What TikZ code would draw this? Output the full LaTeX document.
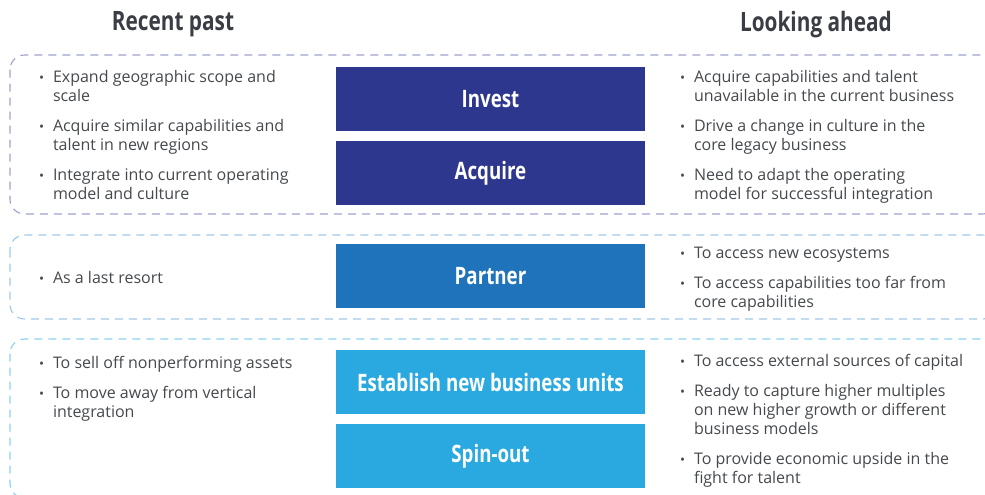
\documentclass[tikz,border=0pt]{standalone}
\usepackage{fontspec}
\setmainfont{Open Sans}
\newfontfamily\condfont[FakeStretch=0.78]{Open Sans}
\usetikzlibrary{positioning}

\definecolor{inkgray}{HTML}{45484D}
\definecolor{headgray}{HTML}{3A3D44}
\definecolor{investblue}{HTML}{2D378E}
\definecolor{partnerblue}{HTML}{1F73BA}
\definecolor{spinblue}{HTML}{29A9E0}
\definecolor{dashone}{HTML}{9EA2CE}
\definecolor{dashtwo}{HTML}{A0C7EA}
\definecolor{dashthree}{HTML}{8BD1F1}

% bullet item, later lines indented
\newcommand\bitem[1]{\makebox[10.5pt][l]{\raisebox{0.3pt}{\fontsize{10}{10}\selectfont •}}%
  \begin{tabular}[t]{@{}l@{}}#1\end{tabular}}

\begin{document}
\begin{tikzpicture}[x=0.75pt,y=-0.75pt,
    every node/.style={inner sep=0pt,outer sep=0pt},
    head/.style={font=\condfont\bfseries\fontsize{20}{23}\selectfont,text=headgray},
    group/.style={dashed,dash pattern=on 6pt off 4.5pt,line width=0.85pt,rounded corners=11pt},
    move/.style={minimum width=231.75pt,minimum height=48pt,text=white,
        font=\condfont\bfseries\fontsize{18}{21}\selectfont},
    item/.style={anchor=north west,text=inkgray,
        font=\fontsize{12}{14.25}\selectfont},
    node distance=8.25pt]
    \useasboundingbox (0,0) rectangle (985,495);
    %% headings
    \node[head] (past) at (173,24.5) {Recent past};
    \node[head] (ahead) at (816,24.5) {Looking ahead};
    %% dashed groups
    \draw[group,dashone] (10,55) rectangle (997,214);
    \draw[group,dashtwo] (10,235) rectangle (997,319);
    \draw[group,dashthree] (10,339) rectangle (997,498);
    %% moves
    \node[move,fill=investblue] (invest) at (490.5,99) {Invest};
    \node[move,fill=investblue,below=7.5pt of invest] (acquire) {Acquire};
    \node[move,fill=partnerblue] (partner) at (490.5,276) {Partner};
    \node[move,fill=spinblue] (establish) at (490.5,382) {Establish new business units};
    \node[move,fill=spinblue,below=7.5pt of establish] (spinout) {Spin-out};
    %% recent past
    \node[item] (p1) at (39,69.5) {\bitem{Expand geographic scope and\\ scale}};
    \node[item,below=of p1.south west,anchor=north west] (p2) {\bitem{Acquire similar capabilities and\\ talent in new regions}};
    \node[item,below=of p2.south west,anchor=north west] (p3) {\bitem{Integrate into current operating\\ model and culture}};
    \node[item] (p4) at (39,270.5) {\bitem{As a last resort}};
    \node[item] (p5) at (39,355.5) {\bitem{To sell off nonperforming assets}};
    \node[item,below=of p5.south west,anchor=north west] (p6) {\bitem{To move away from vertical\\ integration}};
    %% looking ahead
    \node[item] (a1) at (680,69.5) {\bitem{Acquire capabilities and talent\\ unavailable in the current business}};
    \node[item,below=of a1.south west,anchor=north west] (a2) {\bitem{Drive a change in culture in the\\ core legacy business}};
    \node[item,below=of a2.south west,anchor=north west] (a3) {\bitem{Need to adapt the operating\\ model for successful integration}};
    \node[item] (a4) at (680,245.5) {\bitem{To access new ecosystems}};
    \node[item,below=of a4.south west,anchor=north west] (a5) {\bitem{To access capabilities too far from\\ core capabilities}};
    \node[item] (a6) at (680,353.5) {\bitem{To access external sources of capital}};
    \node[item,below=of a6.south west,anchor=north west] (a7) {\bitem{Ready to capture higher multiples\\ on new higher growth or different\\ business models}};
    \node[item,below=of a7.south west,anchor=north west] (a8) {\bitem{To provide economic upside in the\\ fight for talent}};
\end{tikzpicture}
\end{document}
